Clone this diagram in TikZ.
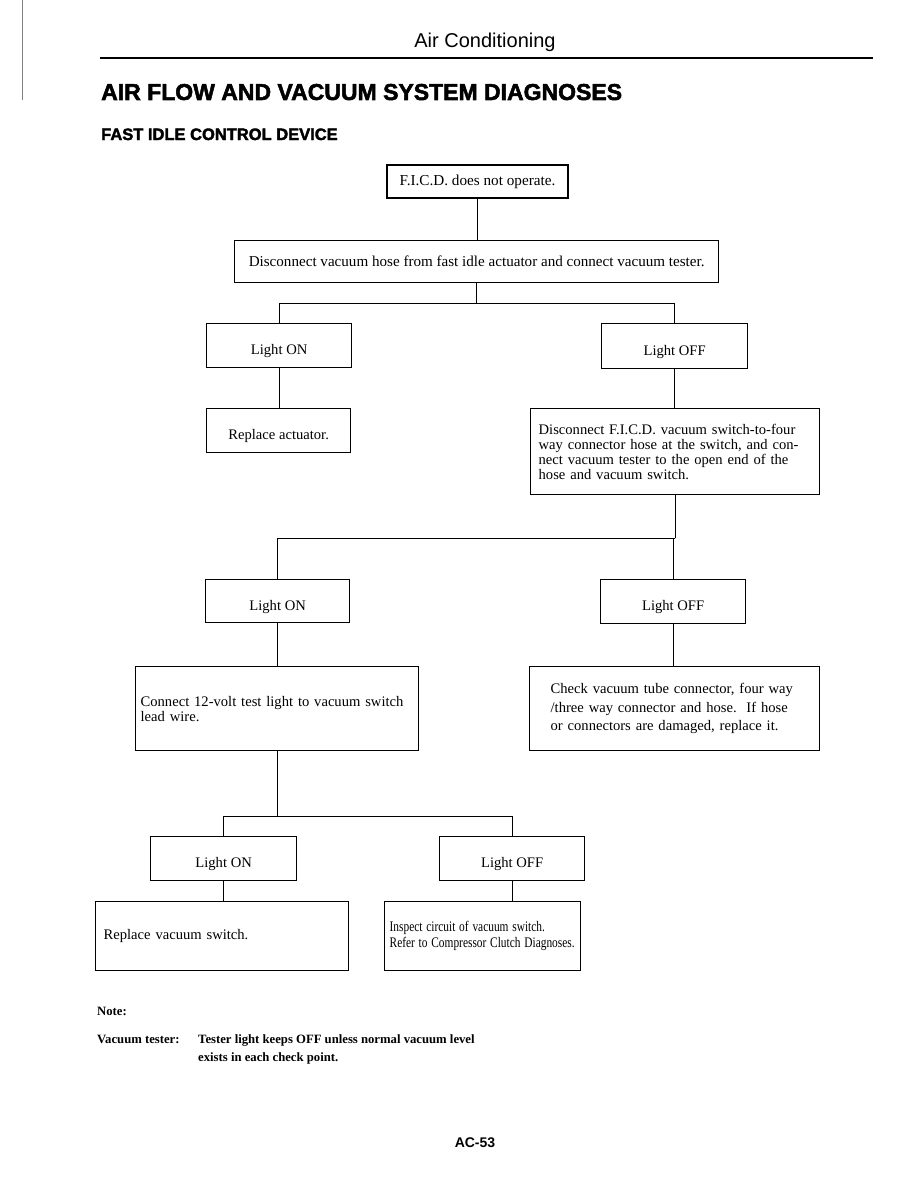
\documentclass[tikz,border=0pt]{standalone}
\usepackage{fontspec}
\setmainfont{Liberation Serif}
\setsansfont{Liberation Sans}
\newfontfamily\heavyfont{Liberation Sans}[BoldFeatures={FakeBold=2.2}]
\usetikzlibrary{positioning,calc}

\begin{document}
\begin{tikzpicture}[
    x=1pt, y=-1pt,
    chkbox/.style={rectangle, draw, line width=1.3pt, anchor=north west, inner sep=0pt, align=center, font=\fontsize{14.6}{16}\selectfont},
    lightbox/.style={chkbox, text height=18.5pt, text depth=0pt},
    lbox/.style={chkbox, align=left},
    link/.style={line width=1.3pt},
    notetext/.style={anchor=base west, inner sep=0pt, font=\bfseries\fontsize{12.7}{16}\selectfont}
]

% Page frame
\fill[white] (0,0) rectangle (918,1188);
\useasboundingbox (0,0) rectangle (918,1188);
\draw[gray, line width=0.8pt] (22,0) -- (22,100);

% Heading
\node[anchor=base, font=\sffamily\fontsize{20}{23}\selectfont] (head) at (485,48) {Air Conditioning};
\draw[line width=2pt] (100,58) -- (873,58);
\node[anchor=base west, inner sep=0pt, font=\heavyfont\bfseries\fontsize{23}{26}\selectfont] (title) at (101,100) {AIR FLOW AND VACUUM SYSTEM DIAGNOSES};
\node[anchor=base west, inner sep=0pt, font=\heavyfont\bfseries\fontsize{16.5}{19}\selectfont] (subtitle) at (101,140) {FAST IDLE CONTROL DEVICE};

% First check
\node[chkbox, line width=1.9pt, minimum width=181, minimum height=33, font=\fontsize{15.2}{17}\selectfont] (fail) at (386,164) {F.I.C.D. does not operate.};
\node[chkbox, minimum width=484, minimum height=42, font=\fontsize{15.1}{17}\selectfont] (disc) at (234,240) {Disconnect vacuum hose from fast idle actuator and connect vacuum tester.};

\node[lightbox, minimum width=145, minimum height=44] (on1) at (206,323) {Light ON};
\node[lightbox, minimum width=146, minimum height=45] (off1) at (601,323) {Light OFF};
\node[lightbox, text height=17pt, minimum width=144, minimum height=44] (act) at (206,408) {Replace actuator.};
\node[lbox, text width=273, inner xsep=8, minimum height=86, font=\fontsize{14.6}{15}\selectfont] (hose) at (530,408) {Disconnect F.I.C.D. vacuum switch-to-four\\way connector hose at the switch, and con-\\nect vacuum tester to the open end of the\\hose and vacuum switch.};

% Second check
\node[lightbox, minimum width=144, minimum height=43] (on2) at (205,579) {Light ON};
\node[lightbox, minimum width=145, minimum height=44] (off2) at (600,579) {Light OFF};
\node[lbox, text width=273, inner xsep=5, minimum height=84, font=\fontsize{14.6}{15}\selectfont] (lamp) at (135,666) {Connect 12-volt test light to vacuum switch\\lead wire.};
\node[lbox, text width=248, inner xsep=21, minimum height=84, font=\fontsize{14.6}{18.5}\selectfont] (tube) at (529,666) {Check vacuum tube connector, four way\\/three way connector and hose.\ \ If hose\\or connectors are damaged, replace it.};

% Third check
\node[lightbox, minimum width=146, minimum height=44] (on3) at (150,836) {Light ON};
\node[lightbox, minimum width=145, minimum height=44] (off3) at (439,836) {Light OFF};
\node[lbox, text width=237, inner xsep=8, minimum height=69] (vsw) at (95,901) {Replace vacuum switch.};
\node[lbox, text width=186, inner xsep=5, minimum height=69, font=\fontsize{14.6}{16}\selectfont] (circ) at (384,901) {\scalebox{0.78}[1]{\begin{tabular}{@{}l@{}}Inspect circuit of vacuum switch.\\Refer to Compressor Clutch Diagnoses.\end{tabular}}};

% Connectors
\draw[link] (fail.south) -- (fail.south |- disc.north);
\draw[link] (disc.south) -- ++(0,20) coordinate (j1);
\draw[link] (on1.north) |- (j1) -| (off1.north);
\draw[link] (on1.south) -- (on1.south |- act.north);
\draw[link] (off1.south) -- (off1.south |- hose.north);
\draw[link] (hose.south) -- ++(0,43) coordinate (j2);
\draw[link] (on2.north) |- (j2) -| (off2.north);
\draw[link] (on2.south) -- (on2.south |- lamp.north);
\draw[link] (off2.south) -- (off2.south |- tube.north);
\draw[link] (lamp.south) -- ++(0,65) coordinate (j3);
\draw[link] (on3.north) |- (j3) -| (off3.north);
\draw[link] (on3.south) -- (on3.south |- vsw.north);
\draw[link] (off3.south) -- (off3.south |- circ.north);

% Note
\node[notetext] (note) at (97,1015) {Note:};
\node[notetext] (tester) at (97,1043) {Vacuum tester:};
\node[notetext] (notetxt) at (198,1043) {Tester light keeps OFF unless normal vacuum level};
\node[notetext] (notetxt2) at (198,1061) {exists in each check point.};

% Page number
\node[anchor=base, font=\sffamily\bfseries\fontsize{14}{17}\selectfont] (page) at (475,1147) {AC-53};

\end{tikzpicture}
\end{document}
